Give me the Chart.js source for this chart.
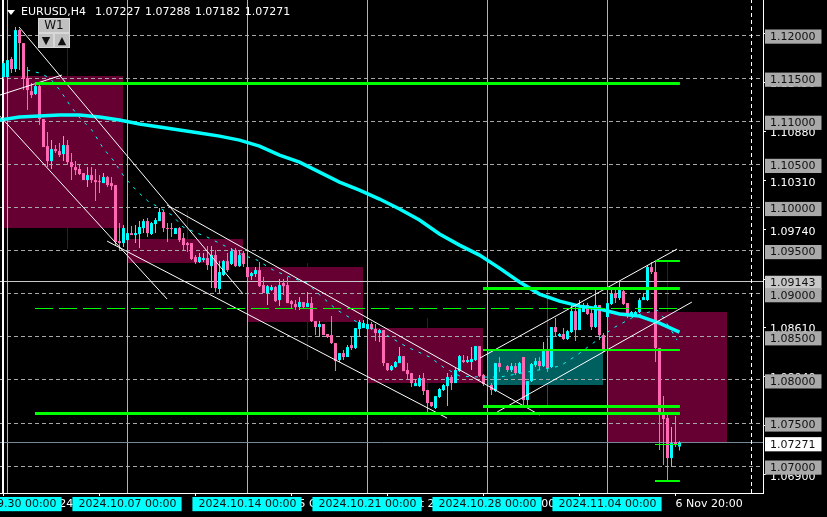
<!DOCTYPE html>
<html>
<head>
<meta charset="utf-8">
<title>EURUSD,H4</title>
<script src="https://cdn.jsdelivr.net/npm/chart.js@4"></script>
<style>
  html, body { margin: 0; padding: 0; background: #000; }
  #wrap { position: relative; width: 827px; height: 517px; overflow: hidden; font: 11px "DejaVu Sans", sans-serif; }
  #chart { position: absolute; left: 0; top: 0; }
  #header { position: absolute; left: 21px; top: 5px; color: #fff; white-space: pre; word-spacing: 1px; }
  #arrow { position: absolute; left: 7px; top: 10px; width: 0; height: 0; border-left: 4px solid transparent; border-right: 4px solid transparent; border-top: 5px solid #fff; }
  .btn { position: absolute; background: #c0c0c0; color: #111; text-align: center; box-sizing: border-box; border: 1px solid #d8d8d8; }
  #btnW1 { left: 38px; top: 18px; width: 32px; height: 15px; font-size: 12px; line-height: 13px; }
  #btnDown { left: 38px; top: 33px; width: 16px; height: 15px; line-height: 13px; }
  #btnUp { left: 54px; top: 33px; width: 16px; height: 15px; line-height: 13px; }
</style>
</head>
<body>
<div id="wrap">
  <canvas id="chart" width="827" height="517"></canvas>
  <div id="arrow"></div>
  <div id="header">EURUSD,H4  1.07227 1.07288 1.07182 1.07271</div>
  <div class="btn" id="btnW1">W1</div>
  <div class="btn" id="btnDown">▼</div>
  <div class="btn" id="btnUp">▲</div>
</div>
<script>
// H4 candles, first one is bar -1. null = no candle drawn there
const FIRST_BAR = -1;
const opens = [
  1.11513, 1.11513, 1.11722, 1.11606, 1.12058, 1.11907, 1.11501, 1.11350, 1.11316, 1.11408,
  1.11026, 1.10712, 1.10538, 1.10678, 1.10654, 1.10620, 1.10724, 1.10527, 1.10469, 1.10446,
  1.10399, 1.10318, 1.10376, 1.10318, 1.10306, 1.10283, 1.10353, 1.10283, 1.10260, 1.09610,
  1.09587, 1.09622, 1.09703, 1.09680, 1.09692, 1.09761, 1.09842, 1.09692, 1.09808, 1.09842,
  1.09947, 1.09761, 1.09761, 1.09692, 1.09761, 1.09645, 1.09587, 1.09587, 1.09425, 1.09367,
  1.09390, 1.09413, 1.09320, 1.09448, 1.09054, 1.09216, 1.09378, 1.09344, 1.09506, 1.09320,
  1.09471, 1.09309, 1.09204, 1.09228, 1.09274, 1.09100, 1.09007, 1.09042, 1.09077, 1.08926,
  1.09123, 1.09100, 1.08914, 1.08880, 1.08845, 1.08903, 1.08845, 1.08891, 1.08682, 1.08613,
  1.08648, 1.08532, 1.08520, 1.08427, 1.08230, 1.08311, 1.08265, 1.08404, 1.08369, 1.08590,
  1.08601, 1.08590, 1.08648, 1.08590, 1.08543, 1.08578, 1.08195, 1.08114, 1.08149, 1.08195,
  1.08276, 1.08114, 1.08079, 1.07928, 1.07928, 1.08021, 1.07882, 1.07743, 1.07673, 1.07801,
  1.07882, 1.07928, 1.08033, 1.07963, 1.08102, 1.08230, 1.08207, 1.08207, 1.08230, 1.08392,
  1.08056, null, 1.07940, 1.07870, 1.08195, null, 1.08160, 1.08114, 1.08160, 1.08079,
  1.08265, 1.07766, 1.07986, 1.08172, 1.08218, 1.08160, 1.08346, 1.08149, 1.08613, 1.08508,
  1.08532, 1.08474, 1.08555, 1.08798, 1.08578, 1.08787, 1.08868, 1.08775, 1.08613, 1.08868,
  1.08520, 1.08729, 1.08880, 1.09007, 1.08949, 1.09030, 1.08891, 1.08752, 1.08752, 1.08787,
  1.08926, 1.08926, 1.09309, 1.09251, 1.08369, 1.07627, 1.07557, 1.07093, 1.07279, 1.07227
];
const highs = [
  1.11698, 1.11733, 1.11745, 1.12093, 1.12070, 1.11907, 1.11629, 1.11443, 1.11443, 1.11420,
  1.11026, 1.10875, 1.10782, 1.10724, 1.10747, 1.10828, 1.10782, 1.10631, 1.10538, 1.10492,
  1.10399, 1.10469, 1.10469, 1.10446, 1.10376, 1.10399, 1.10364, 1.10353, 1.10260, 1.09819,
  1.09796, 1.09877, 1.09784, 1.09796, 1.09842, 1.09866, 1.09877, 1.09831, 1.09877, 1.09993,
  1.09970, 1.09819, 1.09819, 1.09761, 1.09773, 1.09703, 1.09599, 1.09587, 1.09448, 1.09471,
  1.09471, 1.09552, 1.09552, 1.09506, 1.09378, 1.09390, 1.09471, 1.09529, 1.09529, 1.09506,
  1.09494, 1.09309, 1.09251, 1.09309, 1.09367, 1.09193, 1.09100, 1.09100, 1.09088, 1.09170,
  1.09170, 1.09193, 1.08926, 1.08926, 1.08961, 1.08903, 1.09019, 1.08961, 1.08682, 1.08682,
  1.08648, 1.08532, 1.08740, 1.08427, 1.08311, 1.08346, 1.08404, 1.08497, 1.08601, 1.08694,
  1.08694, 1.08671, 1.08671, 1.08648, 1.08590, 1.08578, 1.08195, 1.08172, 1.08218, 1.08381,
  1.08276, 1.08195, 1.08079, 1.08010, 1.08056, 1.08079, 1.07882, 1.07743, 1.07812, 1.07905,
  1.07952, 1.08079, 1.08056, 1.08137, 1.08288, 1.08288, 1.08276, 1.08381, 1.08392, 1.08392,
  1.08068, null, 1.07963, 1.08195, 1.08265, null, 1.08172, 1.08195, 1.08195, 1.08207,
  1.08265, 1.07986, 1.08195, 1.08253, 1.08265, 1.08439, 1.08485, 1.08613, 1.08717, 1.08543,
  1.08601, 1.08578, 1.08868, 1.08856, 1.08926, 1.08891, 1.08891, 1.08845, 1.09042, 1.08868,
  1.08543, 1.08891, 1.09077, 1.09042, 1.09135, 1.09065, 1.08891, 1.08798, 1.08798, 1.08949,
  1.09007, 1.09332, 1.09367, 1.09367, 1.08369, 1.07812, 1.07592, 1.07453, 1.07580, 1.07288
];
const lows = [
  1.11490, 1.11478, 1.11559, 1.11571, 1.11594, 1.11362, 1.11130, 1.11269, 1.11304, 1.10956,
  1.10701, 1.10469, 1.10446, 1.10631, 1.10585, 1.10538, 1.10492, 1.10318, 1.10376, 1.10376,
  1.10318, 1.10237, 1.10283, 1.10074, 1.10167, 1.10283, 1.10237, 1.10202, 1.09564, 1.09506,
  1.09541, 1.09506, 1.09680, 1.09587, 1.09529, 1.09703, 1.09657, 1.09680, 1.09703, 1.09842,
  1.09715, 1.09599, 1.09657, 1.09692, 1.09599, 1.09506, 1.09483, 1.09390, 1.09344, 1.09355,
  1.09367, 1.09274, 1.09065, 1.09019, 1.08996, 1.09204, 1.09251, 1.09332, 1.09309, 1.09309,
  1.09309, 1.09170, 1.09158, 1.09193, 1.09077, 1.09007, 1.08868, 1.09030, 1.08903, 1.08856,
  1.08984, 1.08891, 1.08833, 1.08810, 1.08810, 1.08822, 1.08845, 1.08671, 1.08520, 1.08497,
  1.08520, 1.08485, 1.08416, 1.08102, 1.08207, 1.08230, 1.08265, 1.08346, 1.08358, 1.08497,
  1.08601, 1.08578, 1.08578, 1.08450, 1.08439, 1.08160, 1.08102, 1.08102, 1.08137, 1.08195,
  1.08102, 1.07998, 1.07917, 1.07928, 1.07917, 1.07824, 1.07627, 1.07685, 1.07662, 1.07789,
  1.07870, 1.07696, 1.07882, 1.07963, 1.08091, 1.08195, 1.08195, 1.08114, 1.08218, 1.08033,
  1.07928, null, 1.07824, 1.07859, 1.08091, null, 1.08091, 1.08091, 1.08056, 1.08068,
  1.07708, 1.07708, 1.07975, 1.08149, 1.08114, 1.08149, 1.08091, 1.08137, 1.08497, 1.08497,
  1.08462, 1.08462, 1.08543, 1.08450, 1.08578, 1.08787, 1.08752, 1.08578, 1.08601, 1.08462,
  1.08323, 1.08729, 1.08868, 1.08891, 1.08926, 1.08868, 1.08717, 1.08740, 1.08740, 1.08775,
  1.08926, 1.08914, 1.09228, 1.08207, 1.07186, 1.07012, 1.06838, 1.06989, 1.07221, 1.07182
];
const closes = [
  1.11675, 1.11710, 1.11606, 1.12058, 1.11907, 1.11490, 1.11362, 1.11304, 1.11408, 1.11026,
  1.10701, 1.10538, 1.10678, 1.10654, 1.10608, 1.10724, 1.10527, 1.10469, 1.10434, 1.10388,
  1.10318, 1.10376, 1.10318, 1.10295, 1.10295, 1.10353, 1.10260, 1.10248, 1.09599, 1.09587,
  1.09761, 1.09703, 1.09680, 1.09703, 1.09773, 1.09842, 1.09703, 1.09819, 1.09854, 1.09947,
  1.09761, 1.09750, 1.09750, 1.09761, 1.09622, 1.09564, 1.09564, 1.09402, 1.09367, 1.09425,
  1.09413, 1.09332, 1.09448, 1.09065, 1.09251, 1.09378, 1.09274, 1.09494, 1.09320, 1.09448,
  1.09344, 1.09193, 1.09239, 1.09274, 1.09088, 1.09007, 1.09088, 1.09077, 1.08914, 1.09100,
  1.09088, 1.08891, 1.08880, 1.08845, 1.08903, 1.08845, 1.08891, 1.08682, 1.08613, 1.08648,
  1.08520, 1.08497, 1.08427, 1.08218, 1.08311, 1.08265, 1.08381, 1.08369, 1.08601, 1.08671,
  1.08659, 1.08648, 1.08590, 1.08543, 1.08578, 1.08195, 1.08114, 1.08160, 1.08207, 1.08276,
  1.08102, 1.08068, 1.07963, 1.07963, 1.08021, 1.07870, 1.07731, 1.07696, 1.07812, 1.07894,
  1.07940, 1.08033, 1.07963, 1.08114, 1.08276, 1.08207, 1.08230, 1.08242, 1.08392, 1.08044,
  1.07952, null, 1.07882, 1.08195, 1.08149, null, 1.08114, 1.08160, 1.08079, 1.08195,
  1.07766, 1.07986, 1.08184, 1.08218, 1.08160, 1.08334, 1.08137, 1.08613, 1.08555, 1.08532,
  1.08474, 1.08566, 1.08798, 1.08578, 1.08822, 1.08868, 1.08764, 1.08613, 1.08868, 1.08520,
  1.08334, 1.08891, 1.08996, 1.08949, 1.09042, 1.08880, 1.08752, 1.08787, 1.08787, 1.08926,
  1.08961, 1.09309, 1.09251, 1.08369, 1.07627, 1.07546, 1.07093, 1.07267, 1.07244, 1.07271
];

// moving averages: bar number and price
const maBars = [-2, 3, 8, 13, 18, 23, 28, 33, 38, 43, 48, 53, 58, 63, 68, 73, 78, 83, 88, 93, 98, 103, 108, 113, 118, 123, 128, 133, 138, 143, 148, 153, 158, 163, 168];
const maValues = [1.11014, 1.11049, 1.11060, 1.11072, 1.11072, 1.11049, 1.11014, 1.10968, 1.10933, 1.10898, 1.10863, 1.10828, 1.10782, 1.10712, 1.10608, 1.10527, 1.10411, 1.10295, 1.10202, 1.10098, 1.09982, 1.09854, 1.09692, 1.09564, 1.09448, 1.09297, 1.09135, 1.08996, 1.08914, 1.08856, 1.08822, 1.08764, 1.08740, 1.08659, 1.08555];
const fastBars = [4.9, 8.1, 10.6, 13.1, 15.6, 18.1, 21.1, 23.9, 26.4, 29.4, 32.4, 35.1, 38.1, 41.1, 43.9, 47.4, 49.9, 53.9, 58.9, 62.4, 66.4, 70.6, 74.9, 78.1, 82.4, 87.4, 93.9, 99.9, 105.6, 108.9, 113.1, 118.1, 123.1, 129.9, 138.1, 142.4, 146.4, 151.4, 157.4, 162.4, 163.9, 167.4];
const fastValues = [1.11594, 1.11559, 1.11501, 1.11362, 1.11188, 1.11037, 1.10898, 1.10689, 1.10550, 1.10341, 1.10190, 1.10074, 1.09993, 1.09912, 1.09773, 1.09703, 1.09657, 1.09564, 1.09448, 1.09390, 1.09274, 1.09193, 1.09123, 1.08984, 1.08810, 1.08671, 1.08543, 1.08381, 1.08265, 1.08149, 1.08044, 1.08033, 1.08033, 1.08091, 1.08160, 1.08288, 1.08427, 1.08601, 1.08752, 1.08810, 1.08729, 1.08462];

// weekly candles behind the H4 ones
const weekStart = [-1.125, 29.875, 59.875, 89.875, 119.875, 149.875];
const weekEnd = [28.875, 58.875, 88.875, 118.875, 148.875, 179.875];
const weekTop = [1.11524, 1.09634, 1.09309, 1.08601, 1.08334, 1.08787];
const weekBottom = [1.09761, 1.09355, 1.08671, 1.07963, 1.07940, 1.07279];
const weekWickBar = [15, 45, 75, 105, 135, 165];
const weekHigh = [1.11849, 1.09958, 1.09355, 1.08717, 1.09042, 1.09390];
const weekLow = [1.09518, 1.09355, 1.08230, 1.07627, 1.07708, 1.06838];
const weekUp = [false, false, false, false, true, false];

// trend lines
const trendFromBar = [2.9, -1.9, 24.9, 39.9, -1.9, 118.1, 122.4];
const trendToBar = [58.9, 39.9, 109.9, 133.1, 13.6, 167.4, 171.1];
const trendFromPrice = [1.12093, 1.11060, 1.09610, 1.10028, 1.11304, 1.08253, 1.07627];
const trendToPrice = [1.08996, 1.08938, 1.07557, 1.07592, 1.11536, 1.09518, 1.08903];

// green levels
const levelPrice = [1.11443, 1.08832, 1.09065, 1.08346, 1.07696, 1.07615, 1.07256, 1.06826, 1.09378];
const levelFrom = [6.875, 6.875, 118.875, 118.875, 118.875, 6.875, 161.875, 161.875, 161.875];
const levelTo = [168.1, 168.1, 168.1, 168.1, 168.1, 168.1, 168.1, 168.1, 168.1];
const levelWidth = [3, 1, 3, 2, 3, 3, 1, 2, 2];

// axes
const roundTicks = [1.12, 1.115, 1.11, 1.105, 1.1, 1.095, 1.09, 1.085, 1.08, 1.075, 1.07];
const scaleTicks = [1.1202, 1.1145, 1.1088, 1.1031, 1.0974, 1.0917, 1.0861, 1.0804, 1.0747, 1.069];
const bidPrice = 1.07271;
const markedPrice = 1.09143;
const weekBars = [0, 30, 60, 90, 120, 150];
const weekLabels = ['2024.09.30 00:00', '2024.10.07 00:00', '2024.10.14 00:00', '2024.10.21 00:00', '2024.10.28 00:00', '2024.11.04 00:00'];
const timeBars = [-1, 23, 47, 71, 95, 119, 143, 167];
const timeLabels = ['27 Sep 2024', '3 Oct 20:00', '9 Oct 20:00', '15 Oct 20:00', '21 Oct 20:00', '27 Oct 20:00', '31 Oct 20:00', '6 Nov 20:00'];
const dashedBar = 186;

const Y_MIN = 1.06688, Y_MAX = 1.12407;
const X_MIN = -1.875, X_MAX = 188.875;
const PLOT_HEIGHT = 493;

const BULL = '#00ffff', BEAR = '#ff69b4', MAROON = '#660033', TEAL = '#006060', GREEN = '#00ff00';

Chart.defaults.font.family = '"DejaVu Sans", sans-serif';
Chart.defaults.font.size = 11;

function lineSet(points, color, width, order, dash) {
  return {
    type: 'line', data: points, borderColor: color, borderWidth: width, order: order,
    borderDash: dash || [], pointRadius: 0, tension: 0, fill: false
  };
}
// horizontal lines sit on a whole pixel row, otherwise they blur over two rows
function snapPrice(price, width) {
  const perPixel = (Y_MAX - Y_MIN) / PLOT_HEIGHT;
  const pixel = (Y_MAX - price) / perPixel;
  const center = width % 2 ? Math.floor(pixel) + 0.5 : Math.round(pixel);
  return Y_MAX - center * perPixel;
}
const hLine = (price, from, to, color, width, order, dash) => {
  const y = snapPrice(price, width);
  return lineSet([{ x: from, y }, { x: to, y }], color, width, order, dash);
};
const vLine = (bar, from, to, color, width, order, dash) =>
  lineSet([{ x: bar, y: from }, { x: bar, y: to }], color, width, order, dash);

const datasets = [];

// weekly bodies and wicks
weekStart.forEach((start, i) => {
  const color = weekUp[i] ? TEAL : MAROON;
  datasets.push({
    type: 'line', order: 60, borderWidth: 0, pointRadius: 0, backgroundColor: color,
    data: [{ x: start, y: weekTop[i] }, { x: weekEnd[i], y: weekTop[i] }],
    fill: { value: weekBottom[i] }
  });
  datasets.push(vLine(weekWickBar[i], weekLow[i], weekHigh[i], color, 1, 59));
});

// grid and separators
roundTicks.forEach(p => datasets.push(hLine(p, X_MIN, X_MAX, '#a8a8a8', 1, 50, [4, 3])));
weekBars.forEach(b => datasets.push(vLine(b, Y_MIN, Y_MAX, BULL, 1, 45)));
datasets.push(vLine(-1.125, Y_MIN, Y_MAX, '#ffffff', 2, 44));
datasets.push(vLine(dashedBar, Y_MIN, Y_MAX, '#ffffff', 1, 44, [4, 3]));
datasets.push(hLine(markedPrice, X_MIN, X_MAX, '#c8c8c8', 1, 44));
datasets.push(hLine(bidPrice, X_MIN, X_MAX, '#778899', 1, 44));

// candles: wick below, body on top
const bars = opens.map((o, i) => ({ o, h: highs[i], l: lows[i], c: closes[i], x: FIRST_BAR + i })).filter(b => b.o !== null);
const barColors = bars.map(b => (b.c >= b.o ? BULL : BEAR));
datasets.push({
  type: 'bar', order: 30, grouped: false, barThickness: 1, inflateAmount: 0, borderWidth: 0,
  backgroundColor: barColors, data: bars.map(b => ({ x: b.x, y: [b.l, b.h] }))
});
datasets.push({
  type: 'bar', order: 29, grouped: false, barThickness: 3, inflateAmount: 0, borderWidth: 0,
  backgroundColor: barColors, data: bars.map(b => ({ x: b.x, y: [b.o, b.c] }))
});

// moving averages
datasets.push(lineSet(maBars.map((b, i) => ({ x: b, y: maValues[i] })), BULL, 3.5, 20));
datasets.push(lineSet(fastBars.map((b, i) => ({ x: b, y: fastValues[i] })), BULL, 1, 19, [3, 6]));

// trend lines and levels
trendFromBar.forEach((b, i) => datasets.push(lineSet(
  [{ x: b, y: trendFromPrice[i] }, { x: trendToBar[i], y: trendToPrice[i] }], '#ffffff', 1, 10)));
levelPrice.forEach((p, i) => datasets.push(
  hLine(p, levelFrom[i], levelTo[i], GREEN, levelWidth[i], 5, i === 1 ? [18, 6] : [])));

const setTicks = values => axis => { axis.ticks = values.map(v => ({ value: v })); };
// overlapping tick labels must not push the plot area in from the sides
const fixAxis = (axis, size) => {
  axis.paddingLeft = axis.paddingRight = axis.paddingTop = axis.paddingBottom = 0;
  if (axis.isHorizontal()) axis.height = size; else axis.width = size;
};

// labels are drawn in list order, plain scale labels go under the boxed ones
const yTicks = [...scaleTicks, markedPrice, ...roundTicks, bidPrice];
const isPlain = v => scaleTicks.includes(v);

new Chart(document.getElementById('chart'), {
  type: 'bar',
  data: { datasets },
  options: {
    responsive: false,
    animation: false,
    layout: { padding: 0 },
    plugins: { legend: { display: false }, tooltip: { enabled: false } },
    scales: {
      x: {
        type: 'linear', position: 'bottom', min: X_MIN, max: X_MAX, offset: false,
        afterBuildTicks: setTicks(weekBars),
        afterFit: axis => fixAxis(axis, 24),
        border: { display: true, color: '#ffffff' },
        grid: { offset: false, drawOnChartArea: false, drawTicks: false },
        ticks: {
          autoSkip: false, maxRotation: 0, padding: 5, z: 1, color: '#111111',
          callback: (v, i) => weekLabels[i],
          showLabelBackdrop: true, backdropColor: BULL,
          backdropPadding: { left: 6, right: 5, top: 1, bottom: 0 }
        }
      },
      // second time axis shares the strip with the first, its labels peek out between the cyan boxes
      x2: {
        type: 'linear', axis: 'x', position: 'bottom', weight: -1, min: X_MIN, max: X_MAX, offset: false,
        afterBuildTicks: setTicks(timeBars),
        afterFit: axis => {
          fixAxis(axis, 0);
          axis._computeLabelArea = () => undefined;
        },
        border: { display: false },
        grid: { offset: false, drawOnChartArea: false, tickColor: '#ffffff', tickLength: 3 },
        ticks: {
          autoSkip: false, maxRotation: 0, padding: 2, z: 0, color: '#ffffff', align: 'start',
          callback: (v, i) => timeLabels[i]
        }
      },
      y: {
        type: 'linear', position: 'right', min: Y_MIN, max: Y_MAX,
        afterBuildTicks: setTicks(yTicks),
        afterFit: axis => fixAxis(axis, 64),
        border: { display: true, color: '#ffffff' },
        grid: {
          drawOnChartArea: false, tickLength: 3,
          tickColor: ctx => (isPlain(ctx.tick.value) ? '#ffffff' : 'rgba(0,0,0,0)')
        },
        ticks: {
          autoSkip: false, padding: 4, labelOffset: 2,
          callback: v => v.toFixed(5),
          color: ctx => (isPlain(ctx.tick.value) ? '#ffffff' : '#111111'),
          showLabelBackdrop: ctx => !isPlain(ctx.tick.value),
          backdropColor: ctx => {
            if (ctx.tick.value === bidPrice) return '#ffffff';
            return ctx.tick.value === markedPrice ? '#c8c8c8' : '#a9a9a9';
          },
          backdropPadding: { left: 5, right: 6, top: 1, bottom: 0 }
        }
      }
    }
  }
});
</script>
</body>
</html>
